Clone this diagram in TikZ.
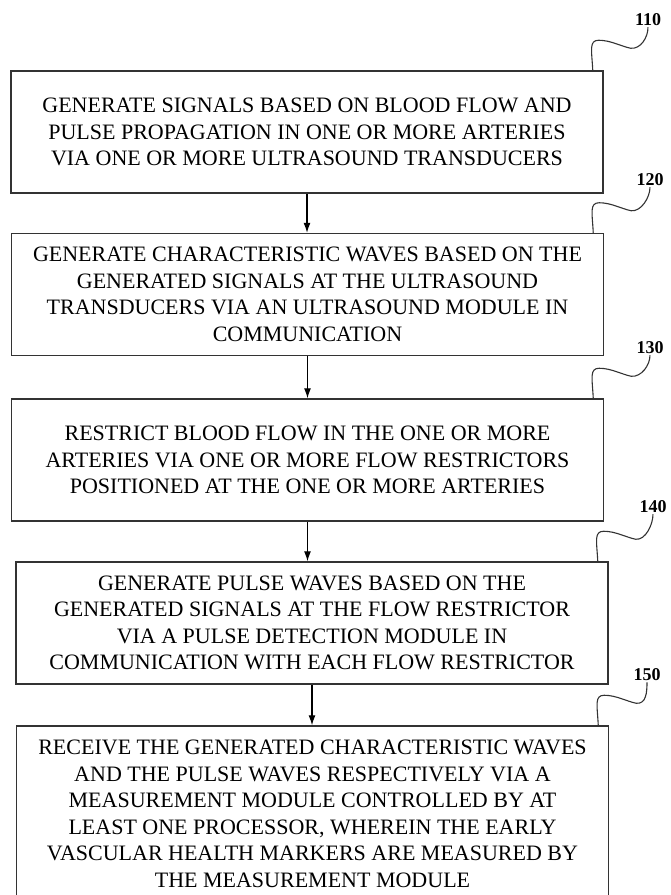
\documentclass[tikz,border=0pt]{standalone}
\usepackage{fontspec}
\setmainfont{Liberation Serif}
\usetikzlibrary{arrows.meta}

\begin{document}
\begin{tikzpicture}
  [x=1pt,y=-1pt,every node/.style={font=\fontsize{22}{26.5}\selectfont},
   box/.style={draw=black!80,line width=1.5pt,minimum width=592pt,minimum height=122pt,align=center,inner sep=0pt},
   num/.style={font=\fontsize{18}{20}\selectfont\bfseries,inner sep=1pt},
   lead/.style={line width=1.1pt,black!80}]

  \useasboundingbox (0,0) rectangle (670,895);

  \node[box] (b1) at (307,132) {GENERATE SIGNALS BASED ON BLOOD FLOW AND\\PULSE PROPAGATION IN ONE OR MORE ARTERIES\\VIA ONE OR MORE ULTRASOUND TRANSDUCERS};
  \node[box] (b2) at (307.5,294.5) {GENERATE CHARACTERISTIC WAVES BASED ON THE\\GENERATED SIGNALS AT THE ULTRASOUND\\TRANSDUCERS VIA AN ULTRASOUND MODULE IN\\COMMUNICATION};
  \node[box] (b3) at (307.5,460) {RESTRICT BLOOD FLOW IN THE ONE OR MORE\\ARTERIES VIA ONE OR MORE FLOW RESTRICTORS\\POSITIONED AT THE ONE OR MORE ARTERIES};
  \node[box] (b4) at (312,623) {GENERATE PULSE WAVES BASED ON THE\\GENERATED SIGNALS AT THE FLOW RESTRICTOR\\VIA A PULSE DETECTION MODULE IN\\COMMUNICATION WITH EACH FLOW RESTRICTOR};
  \node[box,minimum height=176pt] (b5) at (312.5,814) {RECEIVE THE GENERATED CHARACTERISTIC WAVES\\AND THE PULSE WAVES RESPECTIVELY VIA A\\MEASUREMENT MODULE CONTROLLED BY AT\\LEAST ONE PROCESSOR, WHEREIN THE EARLY\\VASCULAR HEALTH MARKERS ARE MEASURED BY\\THE MEASUREMENT MODULE};

  \node[num] (n110) at (648,20) {110};
  \node[num] (n120) at (650,180) {120};
  \node[num] (n130) at (650,348) {130};
  \node[num] (n140) at (653,507) {140};
  \node[num] (n150) at (647,675) {150};

  \foreach \from/\to in {b1/b2,b2/b3,b3/b4,b4/b5}
    \draw[-{Latex[length=10pt,width=7pt]},line width=1.1pt] (\from.south) -- (\from.south |- \to.north);

  \foreach \b/\n in {b1/n110,b2/n120,b3/n130,b4/n140,b5/n150}
    \draw[lead] ([xshift=-11pt]\b.north east) .. controls +(-1,-20) and +(-10,0) .. ++(6,-30)
      .. controls +(12,0) and +(-10,-2) .. ++(32,8) .. controls +(10,1) and +(0,10) .. (\n.south);
\end{tikzpicture}
\end{document}
